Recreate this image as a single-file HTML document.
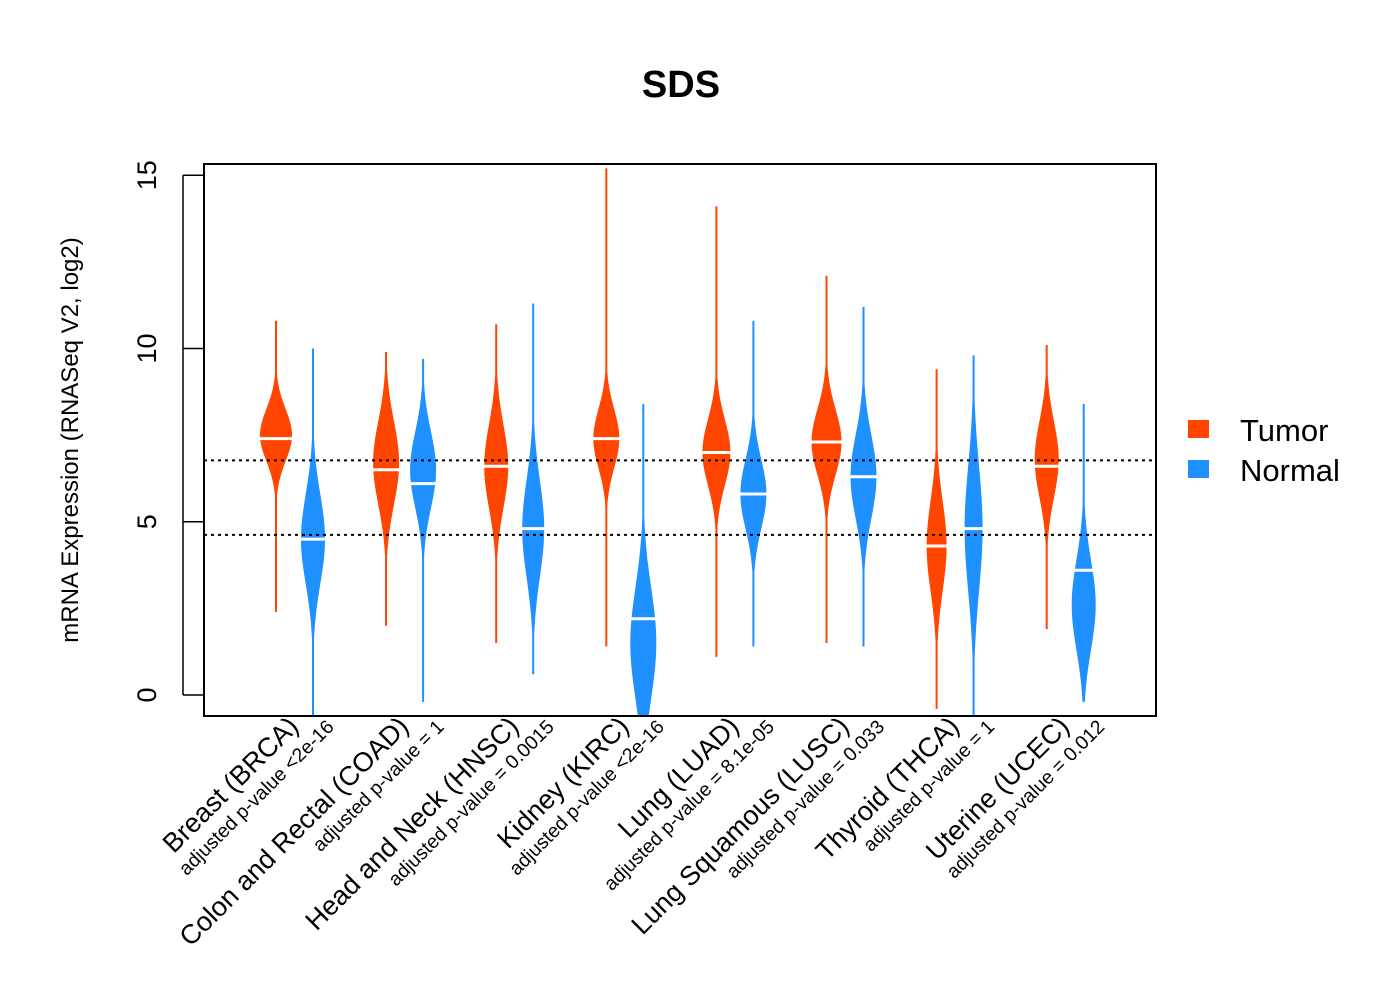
<!DOCTYPE html>
<html><head><meta charset="utf-8"><style>
html,body{margin:0;padding:0;background:#fff;}
svg{display:block;font-family:"Liberation Sans",Arial,sans-serif;}
</style></head><body>
<svg id="chart" width="1400" height="1000" viewBox="0 0 1400 1000">
<text x="681" y="97" text-anchor="middle" font-size="38" font-weight="bold">SDS</text>
<text transform="translate(78,440) rotate(-90)" text-anchor="middle" font-size="24">mRNA Expression (RNASeq V2, log2)</text>
<g id="yaxis"></g>
<defs><clipPath id="pc"><rect x="204" y="164" width="952" height="552"/></clipPath></defs>
<g id="beans" clip-path="url(#pc)"></g>
<g id="refs"></g>
<rect x="204" y="164" width="952" height="552" fill="none" stroke="#000" stroke-width="2"/>
<g id="xlabels"></g>
<g>
<rect x="1188" y="420" width="21" height="18" fill="#ff4500"/>
<text x="1240" y="441" font-size="31">Tumor</text>
<rect x="1188" y="460" width="21" height="18" fill="#1e90ff"/>
<text x="1240" y="481" font-size="31">Normal</text>
</g>
</svg>
<script>
const categories=["Breast (BRCA)","Colon and Rectal (COAD)","Head and Neck (HNSC)","Kidney (KIRC)","Lung (LUAD)","Lung Squamous (LUSC)","Thyroid (THCA)","Uterine (UCEC)"];
const pvalues=["adjusted p-value <2e-16","adjusted p-value = 1","adjusted p-value = 0.0015","adjusted p-value <2e-16","adjusted p-value = 8.1e-05","adjusted p-value = 0.033","adjusted p-value = 1","adjusted p-value = 0.012"];
const tumorMedian=[7.4,6.5,6.6,7.4,7.0,7.3,4.3,6.6];
const tumorMode=[7.5,6.7,6.6,7.4,7.0,7.3,4.3,6.8];
const tumorSd=[0.75,1.2,1.2,0.85,0.95,0.95,1.3,1.1];
const tumorMin=[2.4,2.0,1.5,1.4,1.1,1.5,-0.4,1.9];
const tumorMax=[10.8,9.9,10.7,15.2,14.1,12.1,9.4,10.1];
const tumorWidth=[16,13,12,13,14,15,10,12];
const normalMedian=[4.5,6.1,4.8,2.2,5.8,6.3,4.8,3.6];
const normalMode=[4.5,6.5,4.8,1.5,5.8,6.3,4.8,2.6];
const normalSd=[1.3,1.1,1.4,1.6,1.0,1.2,1.8,1.3];
const normalMin=[-0.6,-0.2,0.6,-0.6,1.4,1.4,-0.6,-0.2];
const normalMax=[10.0,9.7,11.3,8.4,10.8,11.2,9.8,8.4];
const normalWidth=[12,13,11,13,13,13,9,12];
const refLines=[6.77,4.62];
const yTicks=[0,5,10,15];

const NS="http://www.w3.org/2000/svg";
const X0=204,X1=1156;
function y(v){return 695-v*34.65;}
function xc(i,k){return 276+i*110.1+k*37;}
function mk(tag,attrs,parent){const e=document.createElementNS(NS,tag);for(const a in attrs)e.setAttribute(a,attrs[a]);parent.appendChild(e);return e;}

const ya=document.getElementById('yaxis');
const yl=mk('line',{x1:183,x2:183,y1:y(0),y2:y(15),stroke:'#000','stroke-width':1.5},ya);


yTicks.forEach(t=>{
  const l=mk('line',{x1:183,x2:204,y1:y(t),y2:y(t),stroke:'#000','stroke-width':1.5},ya);
  
  
  const tx=mk('text',{transform:`translate(156,${y(t)}) rotate(-90)`,'text-anchor':'middle','font-size':27},ya);
  tx.textContent=t;
  
  
});

const beans=document.getElementById('beans');
function bean(cx,med,mode,sd,mn,mx,w,color,name){
  const g=mk('g',{},beans);
  
  
  const pts=[],N=120;
  for(let j=0;j<=N;j++){const v=mn+(mx-mn)*j/N;const d=Math.exp(-0.5*Math.pow((v-mode)/sd,2));const hw=Math.max(1,w*d);pts.push([v,hw]);}
  let p=pts.map(q=>`${cx+q[1]},${y(q[0])}`).concat(pts.slice().reverse().map(q=>`${cx-q[1]},${y(q[0])}`)).join(' ');
  mk('polygon',{points:p,fill:color},g);
  const m=mk('line',{x1:cx-w-4,x2:cx+w+4,y1:y(med),y2:y(med),stroke:'#fff','stroke-width':3},g);
  
  
}
categories.forEach((c,i)=>{
  bean(xc(i,0),tumorMedian[i],tumorMode[i],tumorSd[i],tumorMin[i],tumorMax[i],tumorWidth[i],'#ff4500','bean-tumor-'+i);
  bean(xc(i,1),normalMedian[i],normalMode[i],normalSd[i],normalMin[i],normalMax[i],normalWidth[i],'#1e90ff','bean-normal-'+i);
});
const refs=document.getElementById('refs');
refLines.forEach(v=>{
  const l=mk('line',{x1:X0,x2:X1,y1:y(v),y2:y(v),stroke:'#000','stroke-width':2,'stroke-dasharray':'3,4'},refs);
  
  
});
const xl=document.getElementById('xlabels');
categories.forEach((c,i)=>{
  const t=mk('text',{transform:`translate(${xc(i,0)+24},${728}) rotate(-45)`,'text-anchor':'end','font-size':27},xl);
  t.textContent=c;
  
  
  const p=mk('text',{transform:`translate(${xc(i,1)+22},${728}) rotate(-45)`,'text-anchor':'end','font-size':19.5},xl);
  p.textContent=pvalues[i];
  
  
});
</script>
</body></html>
